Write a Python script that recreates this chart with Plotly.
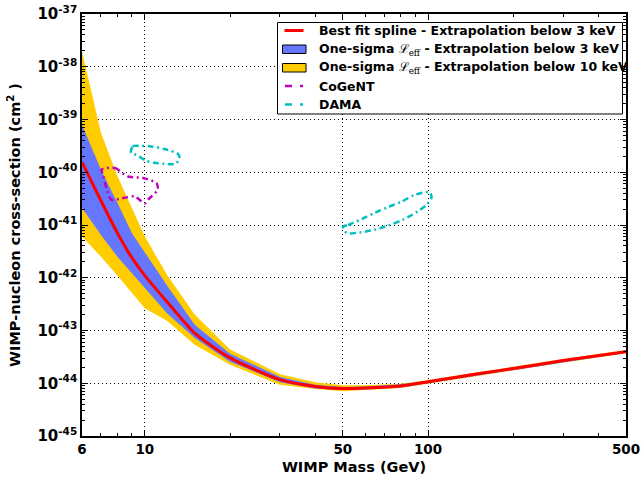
import plotly.graph_objects as go

# WIMP mass grid (GeV)
mass = [6, 7, 8, 9, 10, 12, 15, 20, 30, 40, 50, 60, 80, 100, 150, 200, 300, 500]

# Best-fit spline exclusion limit (cm^2)
best_fit = [1.55e-40, 2.88e-41, 7.08e-42, 2.40e-42, 1.10e-42, 3.47e-43, 8.91e-44, 3.02e-44,
            1.17e-44, 8.71e-45, 7.94e-45, 8.13e-45, 8.91e-45, 1.07e-44, 1.51e-44, 1.91e-44,
            2.69e-44, 3.98e-44]

# One-sigma Leff band, extrapolation below 3 keV
band3_hi = [7.94e-40, 1.12e-40, 2.63e-41, 7.08e-42, 3.02e-42, 7.08e-43, 1.29e-43, 3.63e-44,
            1.32e-44, 9.33e-45, 8.51e-45, 8.71e-45, 9.55e-45, 1.12e-44, 1.58e-44, 2.00e-44,
            2.82e-44, 4.17e-44]
band3_lo = [2.09e-41, 6.46e-42, 2.51e-42, 1.23e-42, 6.46e-43, 2.09e-43, 7.24e-44, 2.57e-44,
            1.05e-44, 7.94e-45, 7.41e-45, 7.59e-45, 8.32e-45, 1.00e-44, 1.41e-44, 1.78e-44,
            2.51e-44, 3.80e-44]

# One-sigma Leff band, extrapolation below 10 keV
band10_hi = [1.95e-38, 5.62e-40, 8.51e-41, 2.14e-41, 6.03e-42, 1.12e-42, 2.00e-43, 4.37e-44,
             1.48e-44, 1.05e-44, 9.12e-45, 9.12e-45, 9.77e-45, 1.15e-44, 1.62e-44, 2.04e-44,
             2.88e-44, 4.27e-44]
band10_lo = [6.03e-42, 2.51e-42, 1.10e-42, 5.13e-43, 2.63e-43, 1.51e-43, 5.37e-44, 2.24e-44,
             9.33e-45, 7.76e-45, 7.08e-45, 7.41e-45, 8.13e-45, 9.77e-45, 1.38e-44, 1.74e-44,
             2.45e-44, 3.72e-44]

# CoGeNT allowed region (closed contour)
cogent_m = [7.03, 7.83, 8.73, 9.86, 11.0, 11.1, 10.26, 10.0, 9.21, 8.38, 7.62, 7.32, 7.12, 7.03]
cogent_s = [1.12e-40, 1.20e-40, 8.3e-41, 7.76e-41, 6.17e-41, 4.68e-41, 3.02e-41, 2.57e-41,
            3.47e-41, 3.24e-41, 3.02e-41, 5.01e-41, 8.91e-41, 1.12e-40]

# DAMA allowed regions (low-mass and high-mass islands)
dama_low_m = [8.94, 9.06, 9.57, 10.52, 11.73, 13.07, 13.25, 12.89, 11.73, 10.81, 10.10, 9.31, 8.94]
dama_low_s = [2.34e-40, 3.09e-40, 3.16e-40, 3.09e-40, 2.75e-40, 2.24e-40, 2.0e-40, 1.45e-40,
              1.45e-40, 1.51e-40, 1.66e-40, 2.14e-40, 2.34e-40]
dama_high_m = [50.1, 52.2, 58.2, 64.8, 72.2, 80.4, 89.7, 101.3, 102.8, 98.6, 92.2, 81.5, 73.2,
               64.8, 57.4, 51.5, 50.1]
dama_high_s = [9.33e-42, 1.0e-41, 1.29e-41, 1.70e-41, 2.19e-41, 2.75e-41, 3.72e-41, 4.17e-41,
               3.24e-41, 2.40e-41, 1.82e-41, 1.26e-41, 1.0e-41, 8.13e-42, 7.24e-42, 7.08e-42,
               9.33e-42]

x_ticks = [6, 10, 50, 100, 500]
x_labels = ["6", "10", "50", "100", "500"]
x_minor = [7, 8, 9, 20, 30, 40, 60, 70, 80, 90, 200, 300, 400]
y_exponents = [-45, -44, -43, -42, -41, -40, -39, -38, -37]

LEFF = '<span style="font-family:DejaVu Serif;font-weight:normal">ℒ<sub>eff</sub></span>'
legend_labels = [
    "Best fit spline - Extrapolation below 3 keV",
    "One-sigma " + LEFF + " - Extrapolation below 3 keV",
    "One-sigma " + LEFF + " - Extrapolation below 10 keV",
    "CoGeNT",
    "DAMA",
]

RED = "#FF0000"
BLUE = "#6677FF"
GOLD = "#FFCC00"
MAGENTA = "#BF00BF"
CYAN = "#00BFBF"
DASHDOT = "6px,3.5px,2px,3.5px"

W, H = 642, 477
ML, MR, MT, MB = 82, 16, 14, 41
PW, PH = W - ML - MR, H - MT - MB


def px(xp):
    return (xp - ML) / PW


def py(yp):
    return (H - MB - yp) / PH


fig = go.Figure()

# bands
fig.add_trace(go.Scatter(x=mass, y=band10_hi, mode="lines", line=dict(width=0),
                         showlegend=False, hoverinfo="skip"))
fig.add_trace(go.Scatter(x=mass, y=band10_lo, mode="lines", line=dict(width=0),
                         fill="tonexty", fillcolor=GOLD, showlegend=False, hoverinfo="skip"))
fig.add_trace(go.Scatter(x=mass, y=band3_hi, mode="lines", line=dict(width=0),
                         showlegend=False, hoverinfo="skip"))
fig.add_trace(go.Scatter(x=mass, y=band3_lo, mode="lines", line=dict(width=0),
                         fill="tonexty", fillcolor=BLUE, showlegend=False, hoverinfo="skip"))

# best fit
fig.add_trace(go.Scatter(x=mass, y=best_fit, mode="lines", showlegend=False,
                         line=dict(color=RED, width=3, shape="spline", smoothing=0.6)))

# allowed regions
for xs, ys, col in [(cogent_m, cogent_s, MAGENTA), (dama_low_m, dama_low_s, CYAN),
                    (dama_high_m, dama_high_s, CYAN)]:
    fig.add_trace(go.Scatter(x=xs, y=ys, mode="lines", showlegend=False,
                             line=dict(color=col, width=2.5, dash=DASHDOT, shape="spline",
                                       smoothing=0.8)))

# legend box, drawn in paper coordinates
shapes = [dict(type="rect", xref="paper", yref="paper", layer="above",
               x0=px(277.5), x1=px(622.5), y0=py(114), y1=py(22.5),
               fillcolor="white", line=dict(color="black", width=1))]
annotations = []
row_y = [30.5, 49, 67.5, 86, 104.5]
for i, (label, yy) in enumerate(zip(legend_labels, row_y)):
    if i == 0:
        shapes.append(dict(type="line", xref="paper", yref="paper", layer="above",
                           x0=px(284.5), x1=px(303.5), y0=py(yy), y1=py(yy),
                           line=dict(color=RED, width=3)))
    elif i in (1, 2):
        shapes.append(dict(type="rect", xref="paper", yref="paper", layer="above",
                           x0=px(282.5), x1=px(306), y0=py(yy + 4.5), y1=py(yy - 4),
                           fillcolor=BLUE if i == 1 else GOLD,
                           line=dict(color="black", width=1)))
    else:
        shapes.append(dict(type="line", xref="paper", yref="paper", layer="above",
                           x0=px(285), x1=px(304), y0=py(yy), y1=py(yy),
                           line=dict(color=MAGENTA if i == 3 else CYAN, width=2.5,
                                     dash="7px,8px,3px,10px")))
    annotations.append(dict(xref="paper", yref="paper", x=px(316.5), y=py(yy),
                            xanchor="left", yanchor="middle", showarrow=False,
                            text="<b>%s</b>" % label,
                            font=dict(family="DejaVu Sans", size=12.5, color="black",
                                      weight="bold")))

bold = dict(family="DejaVu Sans", color="black", weight="bold")
grid_dash = "1px,3px"

fig.update_layout(
    width=W, height=H,
    margin=dict(l=ML, r=MR, t=MT, b=MB),
    paper_bgcolor="white", plot_bgcolor="white",
    font=dict(family="DejaVu Sans", color="black"),
    showlegend=False,
    shapes=shapes,
    annotations=annotations,
    xaxis=dict(
        type="log", range=[0.77815, 2.69897], automargin=False,
        tickmode="array", tickvals=x_ticks,
        ticktext=["<b>%s</b>" % t for t in x_labels],
        tickfont=dict(size=13.5, **bold),
        ticks="inside", ticklen=6, tickwidth=1, tickcolor="black",
        showline=True, linecolor="black", linewidth=1.5, mirror="allticks",
        showgrid=True, gridcolor="black", griddash=grid_dash, gridwidth=1,
        minor=dict(tickmode="array", tickvals=x_minor, ticks="inside", ticklen=3,
                   tickcolor="black", showgrid=False),
        title=dict(text="<b>WIMP Mass (GeV)</b>", font=dict(size=14.5, **bold), standoff=6),
        zeroline=False,
    ),
    yaxis=dict(
        type="log", range=[-45, -37], automargin=False,
        tickmode="array", tickvals=[10.0 ** e for e in y_exponents],
        ticktext=["<b>10<sup>%d</sup></b>" % e for e in y_exponents],
        tickfont=dict(size=15, **bold),
        ticks="inside", ticklen=6, tickwidth=1, tickcolor="black",
        showline=True, linecolor="black", linewidth=1.5, mirror="allticks",
        showgrid=True, gridcolor="black", griddash=grid_dash, gridwidth=1,
        minor=dict(tickmode="array",
                   tickvals=[k * 10.0 ** e for e in y_exponents[:-1] for k in range(2, 10)],
                   ticks="inside", ticklen=3, tickcolor="black", showgrid=False),
        title=dict(text="<b>WIMP-nucleon cross-section (cm<sup>2</sup> )</b>",
                   font=dict(size=14.5, **bold), standoff=13),
        zeroline=False,
    ),
)

fig.write_html("out.html")
